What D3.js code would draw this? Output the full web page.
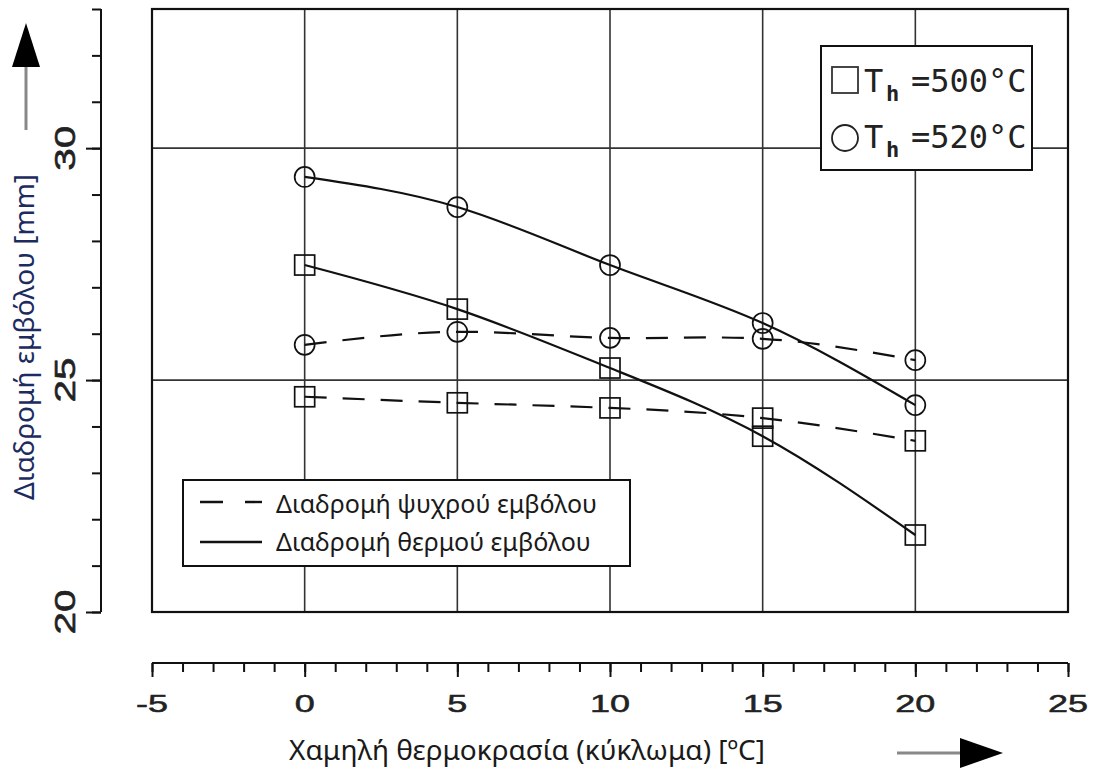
<!DOCTYPE html>
<html>
<head>
<meta charset="utf-8">
<script src="https://cdn.jsdelivr.net/npm/d3@7"></script>
<style>
  body { margin: 0; background: #fff; }
  svg { display: block; }
</style>
</head>
<body>
<div id="chart"></div>
<script>
// data
const temps = [0, 5, 10, 15, 20];
const hot500 = [27.48, 26.53, 25.26, 23.79, 21.66];
const hot520 = [29.38, 28.73, 27.48, 26.23, 24.46];
const cold500 = [24.64, 24.51, 24.4, 24.18, 23.69];
const cold520 = [25.76, 26.04, 25.91, 25.89, 25.43];

const xTicks = [-5, 0, 5, 10, 15, 20, 25];
const yTicks = [20, 25, 30];
const legendTop = ["500", "520"];
const legendBottom = ["Διαδρομή ψυχρού εμβόλου", "Διαδρομή θερμού εμβόλου"];

const width = 1096;
const height = 769;

const svg = d3
  .select("#chart")
  .append("svg")
  .attr("width", width)
  .attr("height", height);

const x = d3.scaleLinear().domain([-5, 25]).range([152, 1068]);
const y = d3.scaleLinear().domain([20, 33]).range([612, 9]);

// grid
const grid = svg.append("g").attr("stroke", "#333").attr("stroke-width", 1.6);
grid
  .selectAll("line.v")
  .data([0, 5, 10, 15, 20])
  .enter()
  .append("line")
  .attr("x1", (d) => x(d))
  .attr("x2", (d) => x(d))
  .attr("y1", y(33))
  .attr("y2", y(20));
grid
  .selectAll("line.h")
  .data([25, 30])
  .enter()
  .append("line")
  .attr("x1", x(-5))
  .attr("x2", x(25))
  .attr("y1", (d) => y(d))
  .attr("y2", (d) => y(d));

// frame
svg
  .append("rect")
  .attr("x", x(-5))
  .attr("y", y(33))
  .attr("width", x(25) - x(-5))
  .attr("height", y(20) - y(33))
  .attr("fill", "none")
  .attr("stroke", "#111")
  .attr("stroke-width", 2.2);

// curves
const line = d3
  .line()
  .x((d) => x(d[0]))
  .y((d) => y(d[1]))
  .curve(d3.curveNatural);

const series = [
  { values: hot520, dashed: false, shape: "circle" },
  { values: hot500, dashed: false, shape: "square" },
  { values: cold520, dashed: true, shape: "circle" },
  { values: cold500, dashed: true, shape: "square" },
];

series.forEach((s) => {
  const pts = temps.map((t, i) => [t, s.values[i]]);
  svg
    .append("path")
    .attr("d", line(pts))
    .attr("fill", "none")
    .attr("stroke", "#111")
    .attr("stroke-width", 2.2)
    .attr("stroke-dasharray", s.dashed ? "22,16" : null);

  if (s.shape === "circle") {
    svg
      .append("g")
      .selectAll("circle")
      .data(pts)
      .enter()
      .append("circle")
      .attr("cx", (d) => x(d[0]))
      .attr("cy", (d) => y(d[1]))
      .attr("r", 10)
      .attr("fill", "none")
      .attr("stroke", "#111")
      .attr("stroke-width", 1.7);
  } else {
    svg
      .append("g")
      .selectAll("rect")
      .data(pts)
      .enter()
      .append("rect")
      .attr("x", (d) => x(d[0]) - 10)
      .attr("y", (d) => y(d[1]) - 10)
      .attr("width", 20)
      .attr("height", 20)
      .attr("fill", "none")
      .attr("stroke", "#111")
      .attr("stroke-width", 1.7);
  }
});

// left axis (separate)
const yAxisMinor = d3.axisLeft(y).tickValues(d3.range(20, 34)).tickSize(9).tickFormat("");
const yAxisMajor = d3.axisLeft(y).tickValues(yTicks).tickSize(15).tickFormat("");
[yAxisMinor, yAxisMajor].forEach((ax) => {
  const g = svg.append("g").attr("transform", "translate(101,0)").call(ax);
  g.selectAll("path, line").attr("stroke", "#111").attr("stroke-width", 2);
  g.select(".domain").attr("d", `M0,${y(33)}V${y(20)}`);
});

svg
  .append("g")
  .selectAll("text")
  .data(yTicks)
  .enter()
  .append("text")
  .attr("transform", (d) => `translate(75,${y(d)}) rotate(-90) scale(1.35,1)`)
  .attr("text-anchor", "middle")
  .attr("font-family", "Liberation Sans, Arial, sans-serif")
  .attr("font-size", 30)
  .attr("fill", "#222")
  .attr("stroke", "#222")
  .attr("stroke-width", 0.6)
  .text((d) => d);

// bottom axis (separate)
const axisY = 663;
const xAxisMinor = d3.axisBottom(x).tickValues(d3.range(-5, 26)).tickSize(9).tickFormat("");
const xAxisMajor = d3.axisBottom(x).tickValues(xTicks).tickSize(14).tickFormat("");
[xAxisMinor, xAxisMajor].forEach((ax) => {
  const g = svg.append("g").attr("transform", `translate(0,${axisY})`).call(ax);
  g.selectAll("path, line").attr("stroke", "#111").attr("stroke-width", 2);
  g.select(".domain").attr("d", `M${x(-5)},0H${x(25)}`);
});

svg
  .append("g")
  .selectAll("text")
  .data(xTicks)
  .enter()
  .append("text")
  .attr("transform", (d) => `translate(${x(d)},712) scale(1.5,1)`)
  .attr("text-anchor", "middle")
  .attr("font-family", "Liberation Sans, Arial, sans-serif")
  .attr("font-size", 24)
  .attr("fill", "#222")
  .attr("stroke", "#222")
  .attr("stroke-width", 0.5)
  .text((d) => (d < 0 ? "-" + Math.abs(d) : d));

// axis titles
svg
  .append("text")
  .attr("transform", "translate(34,500) rotate(-90)")
  .attr("font-family", "Noto Sans, sans-serif")
  .attr("font-size", 28)
  .attr("fill", "#1c2c5e")
  .text("Διαδρομή εμβόλου [mm]");

svg
  .append("text")
  .attr("x", 289)
  .attr("y", 760)
  .attr("font-family", "Noto Sans, sans-serif")
  .attr("font-size", 28)
  .attr("fill", "#1a1a1a")
  .text("Χαμηλή θερμοκρασία (κύκλωμα) [ºC]");

// arrows
svg.append("line").attr("x1", 26).attr("x2", 26).attr("y1", 130).attr("y2", 64)
  .attr("stroke", "#888").attr("stroke-width", 3);
svg.append("path").attr("d", "M26,23 L12,67 L40,67 Z").attr("fill", "#000");

svg.append("line").attr("x1", 897).attr("x2", 962).attr("y1", 753).attr("y2", 753)
  .attr("stroke", "#888").attr("stroke-width", 3);
svg.append("path").attr("d", "M1003,753 L960,738 L960,768 Z").attr("fill", "#000");

// top-right legend
const lg = svg.append("g");
lg.append("rect")
  .attr("x", 821).attr("y", 46).attr("width", 211).attr("height", 124)
  .attr("fill", "#fff").attr("stroke", "#111").attr("stroke-width", 2);

lg.append("rect")
  .attr("x", 832).attr("y", 67).attr("width", 26).attr("height", 26)
  .attr("fill", "none").attr("stroke", "#333").attr("stroke-width", 1.8);
lg.append("circle")
  .attr("cx", 845).attr("cy", 138).attr("r", 13)
  .attr("fill", "none").attr("stroke", "#222").attr("stroke-width", 1.8);

legendTop.forEach((v, i) => {
  const base = 92 + i * 56;
  const t = lg.append("text")
    .attr("font-family", "DejaVu Sans Mono, monospace")
    .attr("fill", "#222");
  t.append("tspan").attr("x", 864).attr("y", base).attr("font-size", 32).text("T");
  t.append("tspan").attr("x", 886).attr("y", base + 9).attr("font-size", 22)
    .attr("font-weight", "bold").text("h");
  t.append("tspan").attr("x", 911).attr("y", base).attr("font-size", 32).text("=" + v + "°C");
});

// bottom-left legend
const lb = svg.append("g");
lb.append("rect")
  .attr("x", 183).attr("y", 480).attr("width", 447).attr("height", 86)
  .attr("fill", "#fff").attr("stroke", "#111").attr("stroke-width", 2);
lb.append("line").attr("x1", 200).attr("x2", 262).attr("y1", 502).attr("y2", 502)
  .attr("stroke", "#111").attr("stroke-width", 2.4).attr("stroke-dasharray", "23,22");
lb.append("line").attr("x1", 200).attr("x2", 262).attr("y1", 542).attr("y2", 542)
  .attr("stroke", "#111").attr("stroke-width", 2.4);
legendBottom.forEach((label, i) => {
  lb.append("text")
    .attr("x", 276).attr("y", 513 + i * 38)
    .attr("font-family", "Noto Sans, sans-serif")
    .attr("font-size", 25)
    .attr("fill", "#1a1a1a")
    .text(label);
});
</script>
</body>
</html>
